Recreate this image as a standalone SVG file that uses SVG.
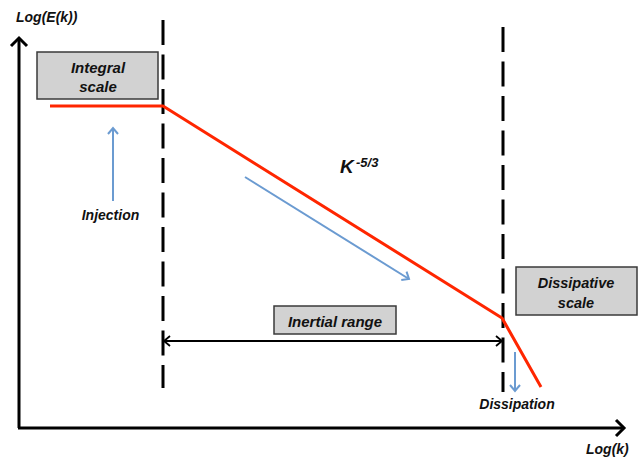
<svg xmlns="http://www.w3.org/2000/svg" width="638" height="460" viewBox="0 0 638 460">
<style>
.t{font-family:"Liberation Sans",Arial,sans-serif;font-weight:bold;font-style:italic;fill:#111;}
.box{fill:#d2d2d2;stroke:#3a3a3a;stroke-width:1.5;}
.dash{stroke:#000;stroke-width:3;stroke-dasharray:25 9.5;fill:none;}
.blue{stroke:#6b9bd1;stroke-width:2;fill:none;}
.red{stroke:#ff2600;stroke-width:3;fill:none;stroke-linejoin:round;}
</style>
<defs>
<marker id="ax" markerUnits="userSpaceOnUse" markerWidth="20" markerHeight="20" refX="10" refY="10" orient="auto">
<path d="M2,2 L10,10 L2,18" fill="none" stroke="#000" stroke-width="3"/>
</marker>
<marker id="bl" markerUnits="userSpaceOnUse" markerWidth="14" markerHeight="14" refX="8" refY="7" orient="auto">
<path d="M2,2 L8,7 L2,12" fill="none" stroke="#6b9bd1" stroke-width="2"/>
</marker>
<marker id="bk" markerUnits="userSpaceOnUse" markerWidth="14" markerHeight="14" refX="9" refY="7" orient="auto-start-reverse">
<path d="M3,2 L9,7 L3,12" fill="none" stroke="#000" stroke-width="1.8"/>
</marker>
</defs>
<g id="axes">
<path d="M19,428 L19,38" stroke="#000" stroke-width="3" fill="none" marker-end="url(#ax)"/>
<path d="M18,428 L624,428" stroke="#000" stroke-width="3" fill="none" marker-end="url(#ax)"/>
<text class="t" x="16" y="22" font-size="14">Log(E(k))</text>
<text class="t" x="586" y="454" font-size="14">Log(k)</text>
</g>
<g id="dashed-lines">
<line class="dash" x1="163" y1="20" x2="163" y2="388"/>
<line class="dash" x1="503" y1="27" x2="503" y2="392"/>
</g>
<g id="spectrum">
<polyline class="red" points="50,106 163,106 502,318 541,387"/>
</g>
<g id="connectors">
<line class="blue" x1="113" y1="201" x2="113" y2="128" marker-end="url(#bl)"/>
<line class="blue" x1="245" y1="177" x2="409" y2="279" marker-end="url(#bl)"/>
<line class="blue" x1="515" y1="352" x2="515" y2="391" marker-end="url(#bl)"/>
<line x1="164" y1="341" x2="502" y2="341" stroke="#000" stroke-width="2" marker-start="url(#bk)" marker-end="url(#bk)"/>
</g>
<g id="integral-scale">
<rect class="box" x="37" y="52" width="121" height="47"/>
<text class="t" x="98" y="73" font-size="15" text-anchor="middle">Integral</text>
<text class="t" x="98" y="92" font-size="15" text-anchor="middle">scale</text>
</g>
<g id="dissipative-scale">
<rect class="box" x="516" y="267" width="121" height="48"/>
<text class="t" x="576" y="288" font-size="14.5" text-anchor="middle">Dissipative</text>
<text class="t" x="576" y="308" font-size="14.5" text-anchor="middle">scale</text>
</g>
<g id="inertial-range">
<rect class="box" x="274" y="306" width="122" height="28"/>
<text class="t" x="335" y="327" font-size="15" text-anchor="middle">Inertial range</text>
</g>
<g id="injection">
<text class="t" x="110.5" y="220" font-size="14" text-anchor="middle">Injection</text>
</g>
<g id="dissipation">
<text class="t" x="517" y="409" font-size="14" text-anchor="middle">Dissipation</text>
</g>
<g id="slope">
<text class="t" x="340" y="173" font-size="19">K</text>
<text class="t" x="356" y="167" font-size="13">-5/3</text>
</g>
</svg>
